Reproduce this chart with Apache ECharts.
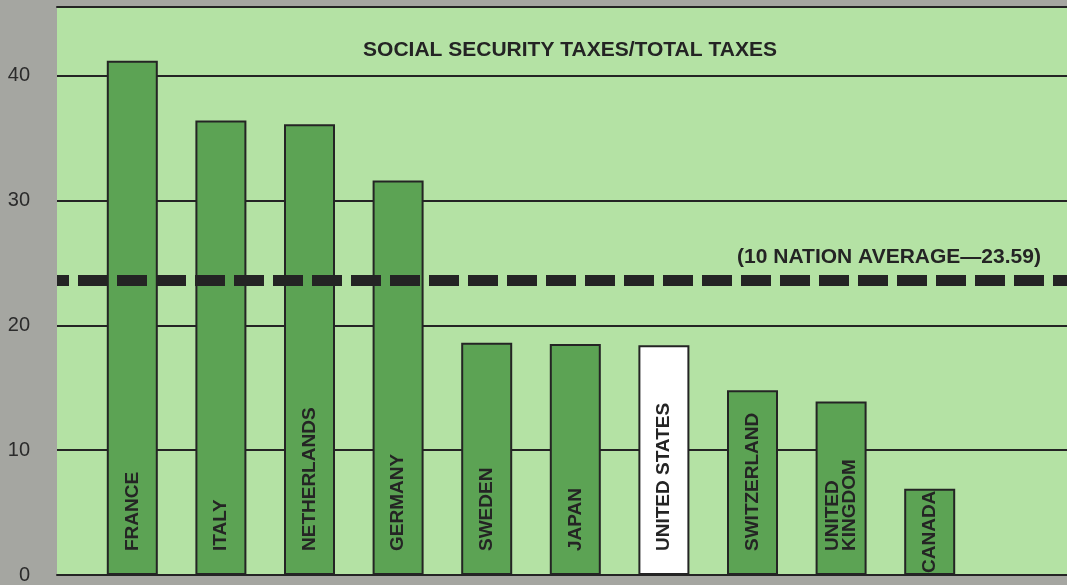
<!DOCTYPE html>
<html>
<head>
<meta charset="utf-8">
<script src="https://cdn.jsdelivr.net/npm/echarts@6/dist/echarts.min.js"></script>
<style>html,body{margin:0;padding:0;background:#a5a6a1;}#c{width:1067px;height:585px;}</style>
</head>
<body>
<div id="c"></div>
<script>
const categories = ['FRANCE','ITALY','NETHERLANDS','GERMANY','SWEDEN','JAPAN','UNITED STATES','SWITZERLAND','UNITED\nKINGDOM','CANADA'];
const values = [41.2, 36.4, 36.1, 31.6, 18.6, 18.5, 18.4, 14.8, 13.9, 6.9];
const highlight = 'UNITED STATES';
const average = 23.59;
const yTicks = [0, 10, 20, 30, 40];
const titleText = 'SOCIAL SECURITY TAXES/TOTAL TAXES';
const avgText = '(10 NATION AVERAGE\u201423.59)';

const GREEN_BG = '#b4e2a4';
const BAR = '#5ca354';
const INK = '#242424';
const YMAX = 45.5;

const chart = echarts.init(document.getElementById('c'));
const barData = values.map((v, i) => ({
  value: v,
  itemStyle: { color: categories[i] === highlight ? '#ffffff' : BAR },
  label: { distance: v < 10 ? 2 : 24 }
}));

chart.setOption({
  backgroundColor: '#a5a6a1',
  animation: false,
  title: [
    { text: titleText, left: 565, top: 35, textAlign: 'center',
      textStyle: { fontFamily: 'Liberation Sans', fontWeight: 'bold', fontSize: 21, color: INK } },
    { text: avgText, left: 884, top: 242, textAlign: 'center',
      textStyle: { fontFamily: 'Liberation Sans', fontWeight: 'bold', fontSize: 21, color: INK } }
  ],
  grid: [
    { left: 57, right: 0, top: 7, bottom: 10, show: true, backgroundColor: GREEN_BG, borderWidth: 0 },
    { left: 88, right: 93, top: 7, bottom: 10 }
  ],
  xAxis: [
    { gridIndex: 0, type: 'value', min: 0, max: 1, position: 'bottom',
      axisLine: { show: true, lineStyle: { color: INK, width: 2 } },
      axisTick: { show: false }, axisLabel: { show: false }, splitLine: { show: false } },
    { gridIndex: 0, type: 'value', min: 0, max: 1, position: 'top',
      axisLine: { show: true, lineStyle: { color: INK, width: 2 } },
      axisTick: { show: false }, axisLabel: { show: false }, splitLine: { show: false } },
    { gridIndex: 1, type: 'category', data: categories,
      axisLine: { show: false }, axisTick: { show: false }, axisLabel: { show: false } }
  ],
  yAxis: [
    { gridIndex: 0, type: 'value', min: yTicks[0], max: YMAX, interval: 10,
      axisLine: { show: false }, axisTick: { show: false },
      axisLabel: { showMaxLabel: false, margin: 27, fontFamily: 'Liberation Sans', fontSize: 20, color: '#2b2b2b',
        formatter: v => yTicks.includes(v) ? String(v) : '' },
      splitLine: { show: true, lineStyle: { color: INK, width: 2 } } },
    { gridIndex: 1, type: 'value', min: yTicks[0], max: YMAX, show: false, splitLine: { show: false } }
  ],
  series: [
    {
      type: 'bar', xAxisIndex: 2, yAxisIndex: 1, barWidth: 51, z: 3,
      data: barData,
      itemStyle: { borderColor: INK, borderWidth: 2 },
      label: {
        show: true, position: 'insideBottom', rotate: 90, align: 'left', verticalAlign: 'middle',
        formatter: p => categories[p.dataIndex],
        fontFamily: 'Liberation Sans', fontWeight: 'bold', fontSize: 19, lineHeight: 17, color: INK
      }
    },
    {
      type: 'line', xAxisIndex: 0, yAxisIndex: 0, z: 10, symbol: 'none', silent: true,
      data: [[0, average], [1, average]],
      lineStyle: { color: INK, width: 11, type: [30, 9], dashOffset: 18, cap: 'butt' }
    }
  ]
});
</script>
</body>
</html>
